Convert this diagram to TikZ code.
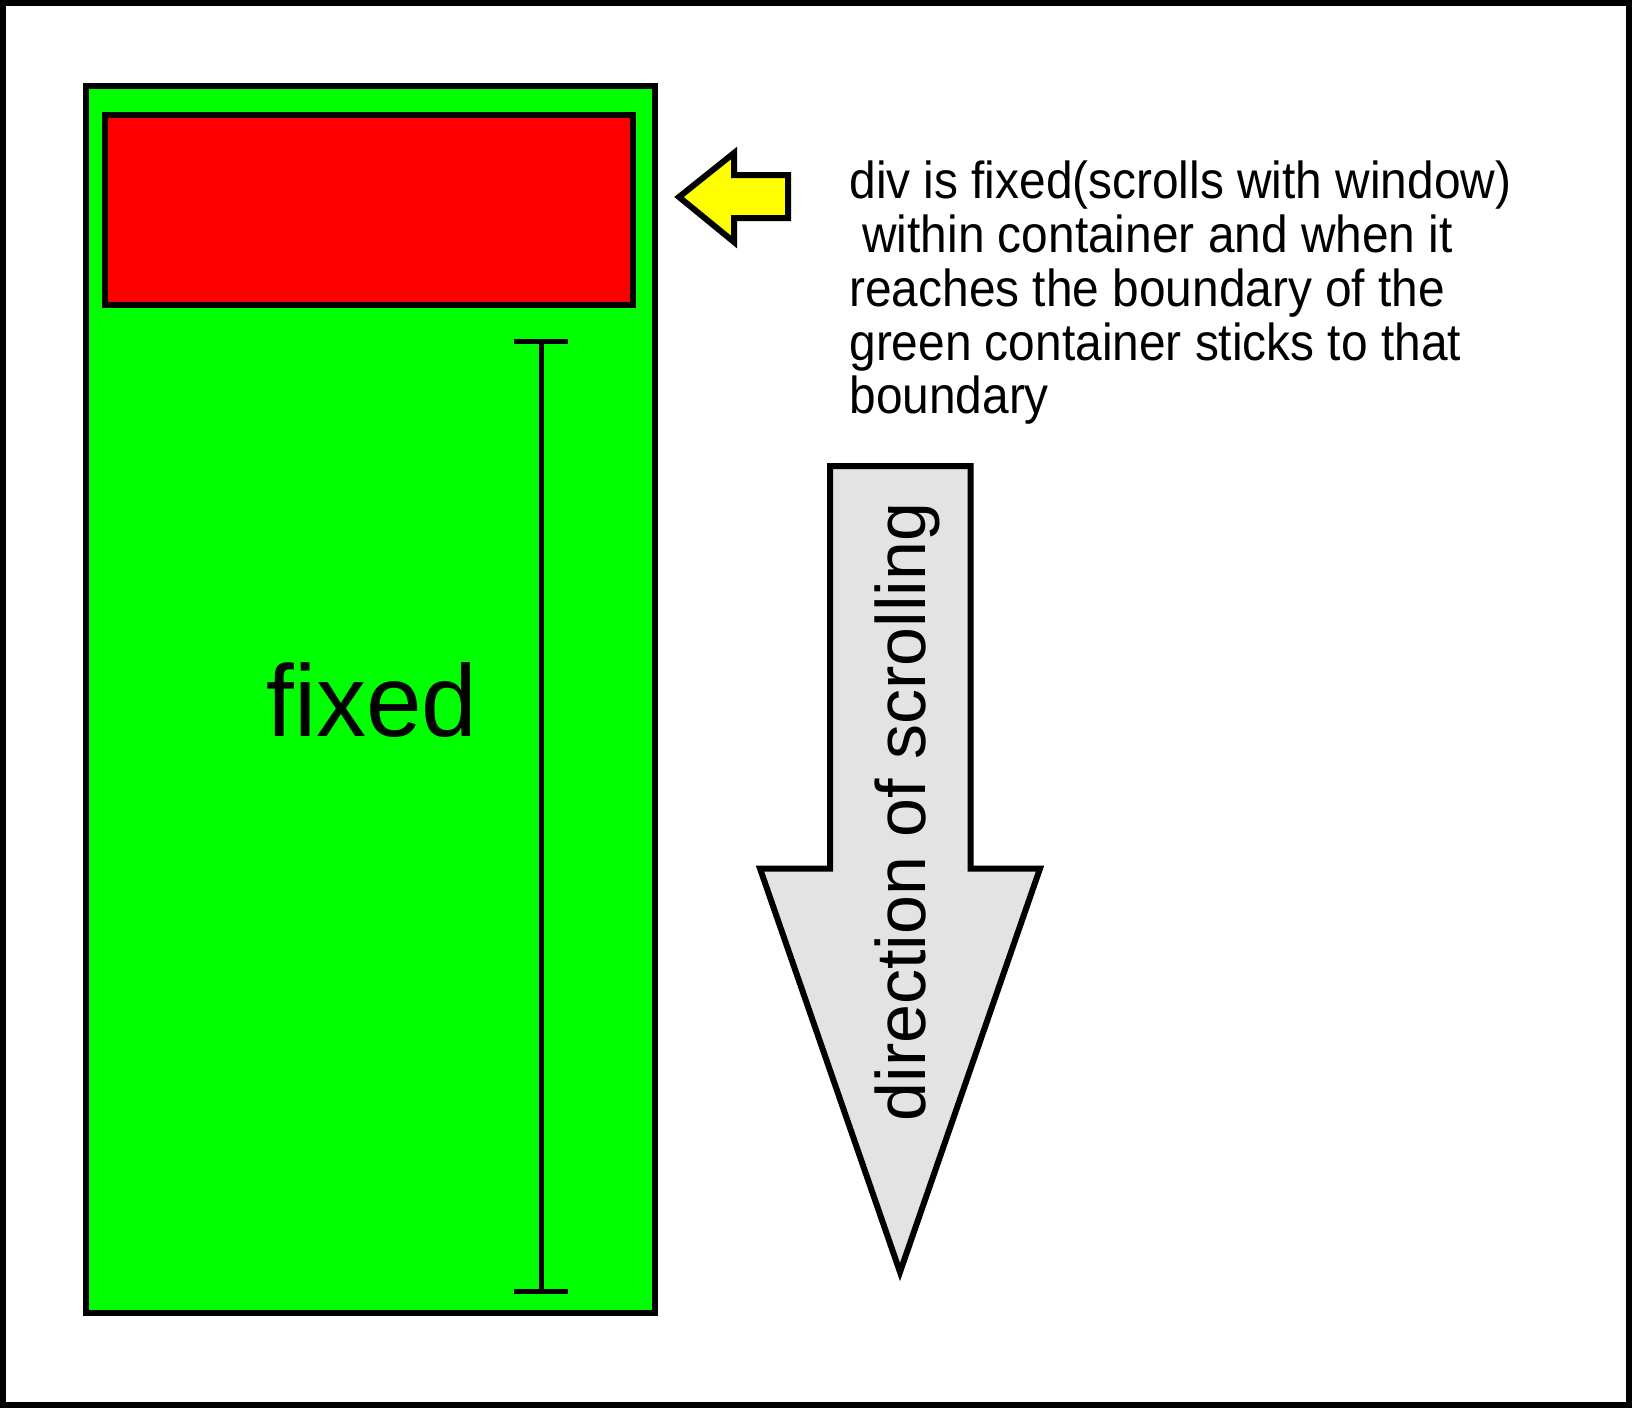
\documentclass[tikz,border=0pt]{standalone}
\usepackage{fontspec}
\setmainfont{Liberation Sans}
\newfontfamily\narrowA[FakeStretch=0.92]{Liberation Sans}
\newfontfamily\narrowB[FakeStretch=0.98]{Liberation Sans}
\definecolor{boxgreen}{HTML}{00FF00}
\definecolor{boxred}{HTML}{FF0000}
\definecolor{arrowyellow}{HTML}{FFFF00}
\definecolor{arrowgray}{HTML}{E3E3E3}
\begin{document}
\begin{tikzpicture}[x=0.5pt,y=-0.5pt,
  frame/.style={draw=black,line width=3pt},
  shapeline/.style={draw=black,line width=3pt,line join=miter},
  noteline/.style={font=\narrowA\fontsize{26pt}{27pt}\selectfont,anchor=base west,inner sep=0pt},
  ruler/.style={draw=black,line width=2.5pt}]
\useasboundingbox (0,0) rectangle (1632,1408);
% outer frame
\draw[frame] (3,3) rectangle (1628.5,1405);
% green container
\draw[shapeline,fill=boxgreen] (86,86) rectangle (655,1313);
% red fixed div
\draw[shapeline,fill=boxred] (105,115) rectangle (633,304.5);
% ruler
\coordinate (rt) at (541,341);
\coordinate (rb) at (541,1291);
\draw[ruler] (rt) -- (rb);
\draw[ruler] ([xshift=-13.5pt]rt) -- ([xshift=13.5pt]rt);
\draw[ruler] ([xshift=-13.5pt]rb) -- ([xshift=13.5pt]rb);
% fixed label
\node[font=\narrowB\fontsize{51pt}{54pt}\selectfont,anchor=base west,inner sep=0pt] (fixed) at (266,736) {fixed};
% yellow arrow
\draw[shapeline,fill=arrowyellow] (679,197) -- (734,153) -- (734,175) -- (788,175) -- (788,218) -- (734,218) -- (734,242) -- cycle;
% note text
\node[noteline] (l1) at (849,198) {div is fixed(scrolls with window)};
\node[noteline] (l2) at (862,252) {within container and when it};
\node[noteline] (l3) at (849,306) {reaches the boundary of the};
\node[noteline] (l4) at (849,360) {green container sticks to that};
\node[noteline] (l5) at (849,413) {boundary};
% big arrow
\draw[shapeline,fill=arrowgray] (830,466) -- (970.5,466) -- (970.5,868.5) -- (1040,868.5) -- (900,1272) -- (760,868.5) -- (830,868.5) -- cycle;
\node[font=\fontsize{35pt}{38pt}\selectfont,rotate=90,anchor=base,inner sep=0pt] (dir) at (925,812) {direction of scrolling};
\end{tikzpicture}
\end{document}
